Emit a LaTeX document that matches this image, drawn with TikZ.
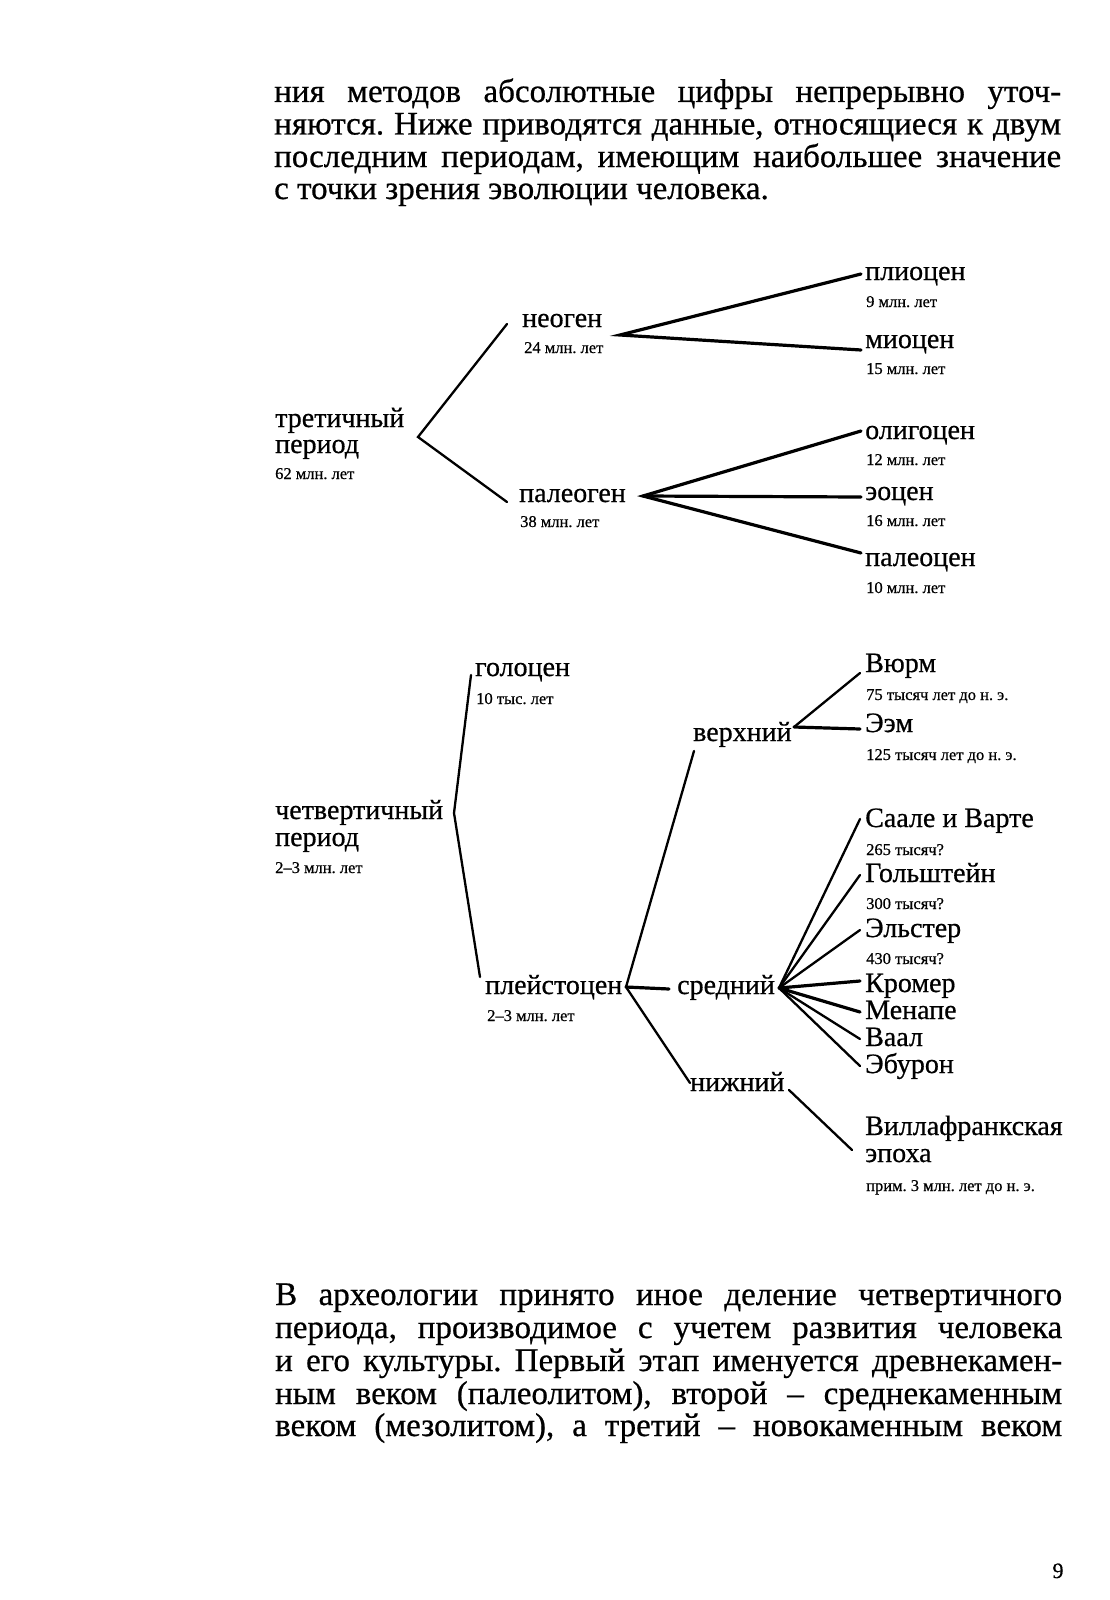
\documentclass[tikz,border=0pt]{standalone}
\usepackage{fontspec}
\setmainfont{Liberation Serif}[FakeBold=0.6]
\frenchspacing
\newcommand\jline[1]{\hbox to 787pt{\frenchspacing\spaceskip=0.22em plus 1fil minus 0.12em\relax #1}}
\begin{document}
\begin{tikzpicture}[x=1pt,y=-1pt,
  body/.style={anchor=base west, inner sep=0pt, font=\fontsize{33}{36}\selectfont},
  lbl/.style={anchor=base west, inner sep=0pt, font=\fontsize{28}{32}\selectfont},
  sml/.style={anchor=base west, inner sep=0pt, font=\fontsize{16.5}{19}\selectfont},
  br/.style={line width=2.3pt, line cap=round},
  thk/.style={line width=3.2pt, line cap=round}]
\useasboundingbox[fill=white] (0,0) rectangle (1110,1600);

% top paragraph
\node[body] (p1) at (274,102) {\jline{ния методов абсолютные цифры непрерывно уточ-}};
\node[body] (p2) at (274,134.5) {\jline{няются. Ниже приводятся данные, относящиеся к двум}};
\node[body] (p3) at (274,167) {\jline{последним периодам, имеющим наибольшее значение}};
\node[body] (p4) at (274,199) {с точки зрения эволюции человека.};

% tertiary tree
\node[lbl] (tret) at (275,427) {третичный};
\node[lbl] (tret2) at (275,453) {период};
\node[sml] (tret3) at (275,479) {62 млн. лет};
\node[lbl] (neo) at (522,327) {неоген};
\node[sml] (neo2) at (524,353) {24 млн. лет};
\node[lbl] (pal) at (519,502) {палеоген};
\node[sml] (pal2) at (520,527) {38 млн. лет};
\node[lbl] (plio) at (865,280) {плиоцен};
\node[sml] (plio2) at (866,307) {9 млн. лет};
\node[lbl] (mio) at (865,348) {миоцен};
\node[sml] (mio2) at (866,374) {15 млн. лет};
\node[lbl] (oli) at (865,439) {олигоцен};
\node[sml] (oli2) at (866,465) {12 млн. лет};
\node[lbl] (eo) at (865,500) {эоцен};
\node[sml] (eo2) at (866,526) {16 млн. лет};
\node[lbl] (paleo) at (865,566) {палеоцен};
\node[sml] (paleo2) at (866,593) {10 млн. лет};

\coordinate (v1) at (418,437);
\coordinate (v1a) at (507,324);
\coordinate (v1b) at (507,502);
\coordinate (vn) at (620,335);
\coordinate (vna) at (861,274);
\coordinate (vnb) at (861,350);
\coordinate (vp) at (643,496);
\coordinate (vpa) at (861,431);
\coordinate (vpb) at (861,497);
\coordinate (vpc) at (861,553);
\draw[br] (v1a) -- (v1) -- (v1b);
\draw[thk] (vna) -- (vn) -- (vnb);
\draw[thk] (vpa) -- (vp) -- (vpc);
\draw[thk] (vp) -- (vpb);

% quaternary tree
\node[lbl] (chet) at (275,819) {четвертичный};
\node[lbl] (chet2) at (275,846) {период};
\node[sml] (chet3) at (275,873) {2–3 млн. лет};
\node[lbl] (golo) at (475,676) {голоцен};
\node[sml] (golo2) at (476,704) {10 тыс. лет};
\node[lbl] (plei) at (485,994) {плейстоцен};
\node[sml] (plei2) at (487,1021) {2–3 млн. лет};
\node[lbl] (verh) at (693,741) {верхний};
\node[lbl] (sred) at (677,994) {средний};
\node[lbl] (nizh) at (690,1091) {нижний};
\node[lbl] (wurm) at (865,672) {Вюрм};
\node[sml] (wurm2) at (866,700) {75 тысяч лет до н. э.};
\node[lbl] (eem) at (865,732) {Ээм};
\node[sml] (eem2) at (866,760) {125 тысяч лет до н. э.};
\node[lbl] (saale) at (865,827) {Саале и Варте};
\node[sml] (saale2) at (866,855) {265 тысяч?};
\node[lbl] (holst) at (865,882) {Гольштейн};
\node[sml] (holst2) at (866,909) {300 тысяч?};
\node[lbl] (elst) at (865,937) {Эльстер};
\node[sml] (elst2) at (866,964) {430 тысяч?};
\node[lbl] (krom) at (865,992) {Кромер};
\node[lbl] (men) at (865,1019) {Менапе};
\node[lbl] (waal) at (865,1046) {Ваал};
\node[lbl] (ebur) at (865,1073) {Эбурон};
\node[lbl] (villa) at (865,1135) {Виллафранкская};
\node[lbl] (villa2) at (865,1162) {эпоха};
\node[sml] (villa3) at (866,1191) {прим. 3 млн. лет до н. э.};

\coordinate (q0) at (454,813);
\coordinate (qa) at (471,675);
\coordinate (qb) at (480,977);
\draw[br] (qa) -- (q0) -- (qb);
\coordinate (pv) at (626,987);
\coordinate (pva) at (694,751);
\coordinate (pvb) at (669,989);
\coordinate (pvc) at (690,1083);
\draw[br] (pva) -- (pv) -- (pvc);
\draw[thk] (pv) -- (pvb);
\coordinate (vv) at (794,727);
\coordinate (vva) at (860,673);
\coordinate (vvb) at (860,729);
\draw[br] (vva) -- (vv);
\draw[thk] (vv) -- (vvb);
\coordinate (sv) at (779,988);
\coordinate (s1) at (860,819);
\coordinate (s2) at (860,875);
\coordinate (s3) at (860,930);
\coordinate (s4) at (860,981);
\coordinate (s5) at (860,1012);
\coordinate (s6) at (860,1039);
\coordinate (s7) at (860,1066);
\draw[br] (sv) -- (s1);
\draw[br] (sv) -- (s2);
\draw[br] (sv) -- (s3);
\draw[thk] (sv) -- (s4);
\draw[thk] (sv) -- (s5);
\draw[br] (sv) -- (s6);
\draw[br] (sv) -- (s7);
\coordinate (na) at (789,1090);
\coordinate (nb) at (852,1150);
\draw[br] (na) -- (nb);

% bottom paragraph
\node[body] (b1) at (275,1305) {\jline{В археологии принято иное деление четвертичного}};
\node[body] (b2) at (275,1338) {\jline{периода, производимое с учетем развития человека}};
\node[body] (b3) at (275,1371) {\jline{и его культуры. Первый этап именуется древнекамен-}};
\node[body] (b4) at (275,1404) {\jline{ным веком (палеолитом), второй – среднекаменным}};
\node[body] (b5) at (275,1436) {\jline{веком (мезолитом), а третий – новокаменным веком}};

\node[anchor=base, inner sep=0pt, font=\fontsize{22}{24}\selectfont] (pg) at (1058,1578) {9};
\end{tikzpicture}
\end{document}
